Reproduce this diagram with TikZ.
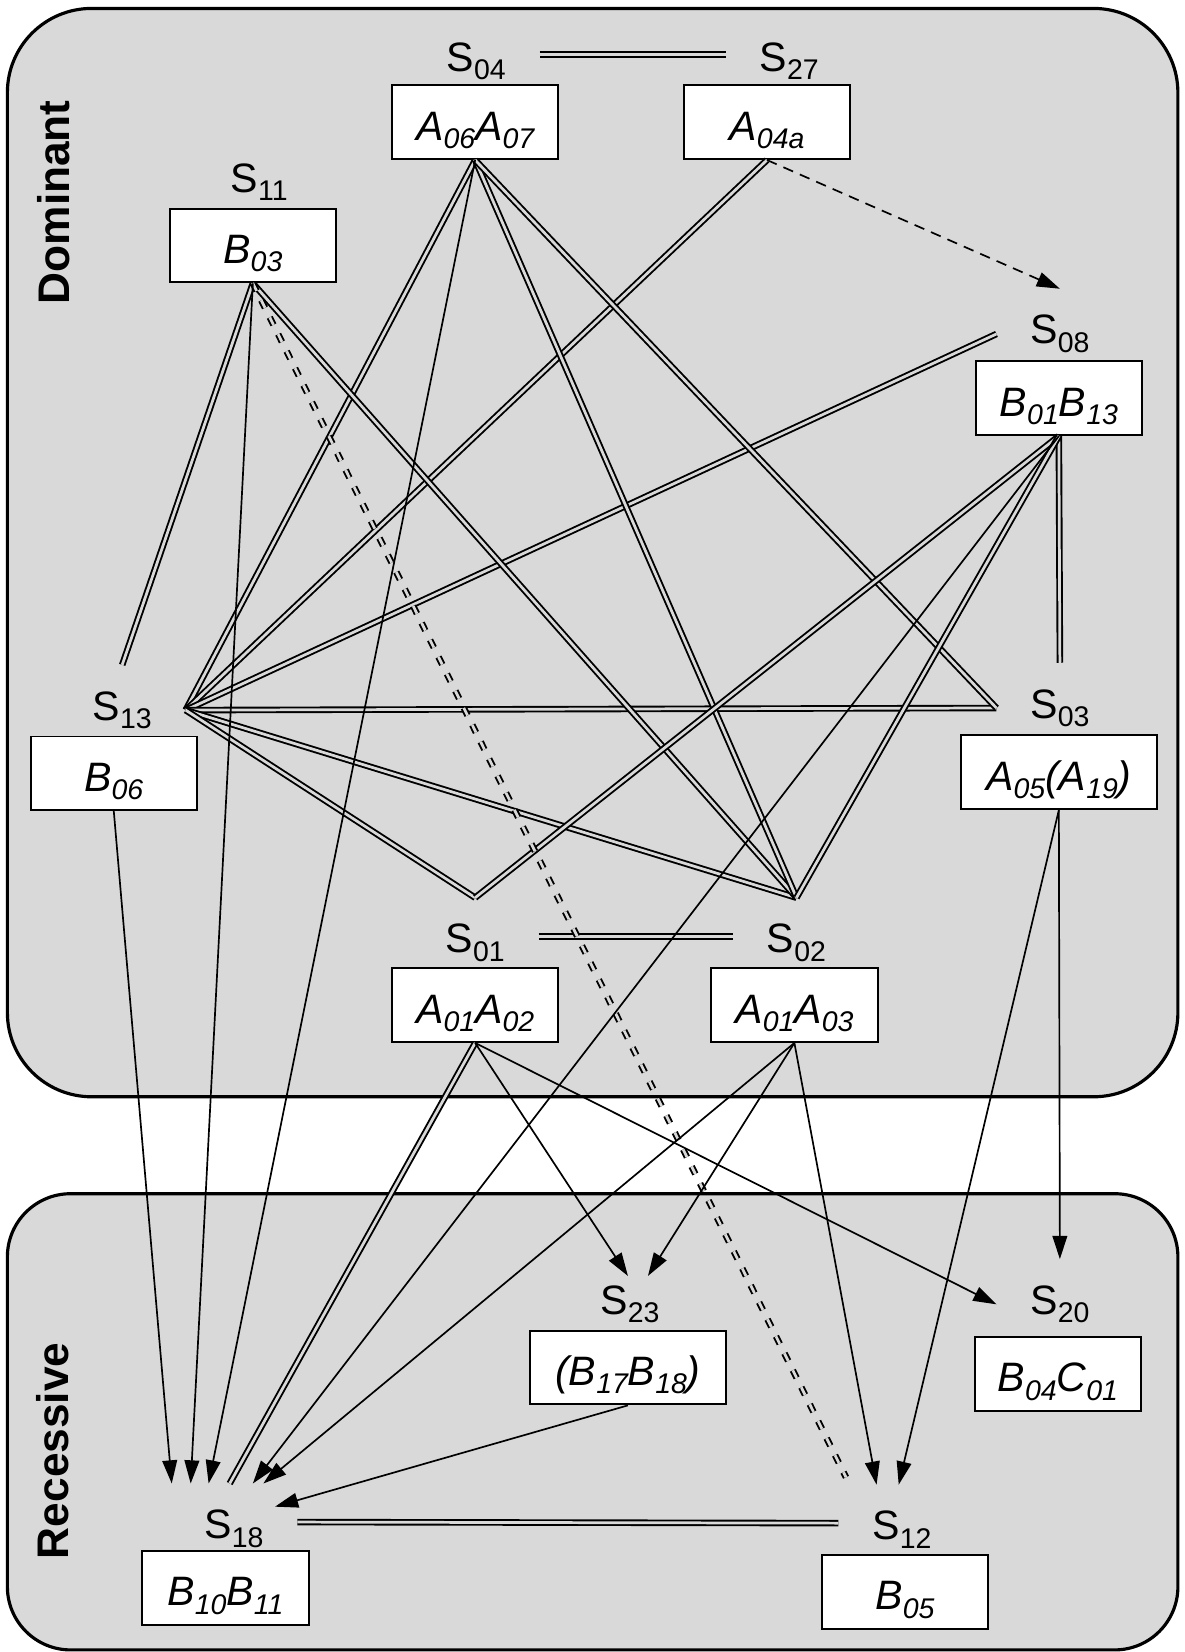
\documentclass[tikz,border=0pt]{standalone}
\usepackage{fontspec}
\setmainfont{Liberation Sans}
\usetikzlibrary{arrows.meta}
\definecolor{panelgray}{RGB}{217,217,217}
\newcommand\lowsub[1]{\raisebox{-8pt}{\fontsize{27}{27}\selectfont #1}}

\begin{document}
\begin{tikzpicture}[x=1pt, y=-1pt,
	panel/.style = {draw, line width=3pt, fill=panelgray},
	statebox/.style = {draw, line width=1.8pt, fill=white, minimum width=158pt,
		inner xsep=4pt, inner ysep=0pt, text height=52pt, text depth=18pt,
		font=\fontsize{39}{40}\selectfont\itshape},
	lbl/.style = {inner xsep=32pt, inner ysep=25pt, font=\fontsize{39}{40}\selectfont},
	side/.style = {rotate=90, font=\fontsize{42}{42}\selectfont\bfseries},
	dbl/.style = {double=panelgray, double distance=2.6pt, line width=1.8pt},
	arr/.style = {line width=1.6pt, -{Triangle[length=22pt, width=14pt]}}]

	\useasboundingbox (0,0) rectangle (1124,1568);
	\draw[panel, rounded corners=80pt] (7,8) rectangle (1118,1041);
	\draw[panel, rounded corners=60pt] (7,1133) rectangle (1118,1566);
	\node[side] (dom) at (51,192) {Dominant};
	\node[side] (rec) at (50,1377) {Recessive};

	\node[statebox] (a0607) at (451,116) {A\lowsub{06}A\lowsub{07}};
	\node[statebox] (a04a) at (728,116) {A\lowsub{04a}};
	\node[statebox] (b03) at (240,233) {B\lowsub{03}};
	\node[statebox] (b0113) at (1005,378) {B\lowsub{01}B\lowsub{13}};
	\node[statebox] (b06) at (108,734) {B\lowsub{06}};
	\node[statebox, minimum width=186pt] (a0519) at (1005,733) {A\lowsub{05}(A\lowsub{19})};
	\node[statebox] (a0102) at (451,954) {A\lowsub{01}A\lowsub{02}};
	\node[statebox] (a0103) at (754,954) {A\lowsub{01}A\lowsub{03}};
	\node[statebox, minimum width=186pt] (b1718) at (596,1298) {(B\lowsub{17}B\lowsub{18})};
	\node[statebox] (b04c01) at (1004,1304) {B\lowsub{04}C\lowsub{01}};
	\node[statebox] (b1011) at (214,1507) {B\lowsub{10}B\lowsub{11}};
	\node[statebox] (b05) at (859,1511) {B\lowsub{05}};

	\node[lbl] (s04) at (452,58) {S\lowsub{04}};
	\node[lbl] (s27) at (749,58) {S\lowsub{27}};
	\node[lbl] (s11) at (246,173) {S\lowsub{11}};
	\node[lbl] (s08) at (1006,317) {S\lowsub{08}};
	\node[lbl] (s13) at (116,674) {S\lowsub{13}};
	\node[lbl] (s03) at (1006,672) {S\lowsub{03}};
	\node[lbl] (s01) at (451,895) {S\lowsub{01}};
	\node[lbl] (s02) at (756,895) {S\lowsub{02}};
	\node[lbl] (s23) at (598,1238) {S\lowsub{23}};
	\node[lbl] (s20) at (1006,1238) {S\lowsub{20}};
	\node[lbl] (s18) at (222,1451) {S\lowsub{18}};
	\node[lbl] (s12) at (856,1452) {S\lowsub{12}};

	\draw[dbl] (s04.6) -- (s27.174);
	\draw[dbl] (s01.6) -- (s02.174);
	\draw[dbl] (s18.6) -- (s12.174);
	\draw[dbl] (s13.east) -- (a0607.south);
	\draw[dbl] (s13.east) -- (a04a.south);
	\draw[dbl] (s13.east) -- (s08.west);
	\draw[dbl] (s13.east) -- (s03.west);
	\draw[dbl] (s13.east) -- (s02.north);
	\draw[dbl] (s13.east) -- (s01.north);
	\draw[dbl] (b03.south) -- (s13.north);
	\draw[dbl] (b03.south) -- (s02.north);
	\draw[dbl] (a0607.south) -- (s02.north);
	\draw[dbl] (a0607.south) -- (s03.west);
	\draw[dbl] (b0113.south) -- (s03.north);
	\draw[dbl] (b0113.south) -- (s01.north);
	\draw[dbl] (b0113.south) -- (s02.north);
	\draw[dbl] (a0102.south) -- ([xshift=-4pt]s18.north);
	\draw[dbl, dash pattern=on 8pt off 10pt] (b03.south) -- ([xshift=-53pt, yshift=7pt]s12.north);

	\draw[arr, dash pattern=on 10pt off 7pt] (a04a.south) -- (s08.north);
	\draw[arr] (b06.south) -- ([xshift=-59pt]s18.north);
	\draw[arr] (b03.south) -- ([xshift=-41pt]s18.north);
	\draw[arr] (a0607.south) -- ([xshift=-24pt]s18.north);
	\draw[arr] (b0113.south) -- ([xshift=18pt]s18.north);
	\draw[arr] (a0103.south) -- ([xshift=28pt]s18.north);
	\draw[arr] (b1718.south) -- ([xshift=39pt, yshift=-22pt]s18.north);
	\draw[arr] (a0102.south) -- ([xshift=-2pt, yshift=-16pt]s23.north);
	\draw[arr] (a0103.south) -- ([xshift=17pt, yshift=-16pt]s23.north);
	\draw[arr] (a0102.south) -- (s20.west);
	\draw[arr] (a0519.south) -- (s20.north);
	\draw[arr] (a0519.south) -- ([xshift=-3pt]s12.north);
	\draw[arr] (a0103.south) -- ([xshift=-24pt]s12.north);
\end{tikzpicture}
\end{document}
